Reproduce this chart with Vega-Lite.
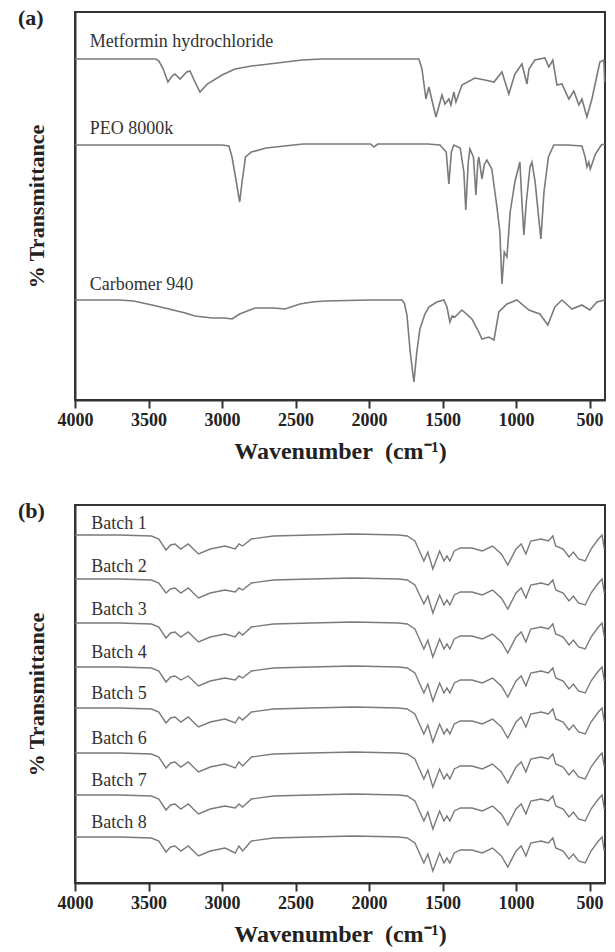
{
  "$schema": "https://vega.github.io/schema/vega-lite/v6.json",
  "background": "white",
  "padding": {"left": 17, "top": 6, "right": 8, "bottom": 2},
  "spacing": 35,
  "config": {
    "view": {"stroke": "#333", "strokeWidth": 2},
    "axis": {
      "grid": false,
      "domainColor": "#333", "domainWidth": 2,
      "tickColor": "#333", "tickWidth": 2,
      "labelFont": "Liberation Serif", "labelFontWeight": "bold", "labelFontSize": 18, "labelColor": "#222",
      "titleFont": "Liberation Serif", "titleFontWeight": "bold", "titleFontSize": 24, "titleColor": "#222"
    },
    "title": {"font": "Liberation Serif", "fontWeight": "bold", "fontSize": 22, "color": "#222"}
  },
  "vconcat": [
    {
      "width": 530,
      "height": 388,
      "title": {"text": "(a)", "anchor": "start", "frame": "bounds", "offset": 0, "dy": 18, "dx": -7},
      "layer": [
        {
          "data": {
            "values": "s,w,t\nM,4000,343\nM,3700,343\nM,3450,343\nM,3429,341\nM,3400,333\nM,3368,320\nM,3340,326\nM,3320,328\nM,3286,323\nM,3240,330\nM,3218,331\nM,3190,322\nM,3150,310\nM,3100,318\nM,3000,327\nM,2912,333\nM,2800,336\nM,2681,338\nM,2456,342\nM,2320,343\nM,2000,343\nM,1700,343\nM,1661,343\nM,1640,333\nM,1613,303\nM,1593,315\nM,1545,285\nM,1504,307\nM,1484,298\nM,1457,303\nM,1443,297\nM,1423,310\nM,1409,300\nM,1368,317\nM,1280,324\nM,1212,322\nM,1150,320\nM,1096,330\nM,1049,308\nM,1008,328\nM,960,338\nM,926,318\nM,912,333\nM,872,342\nM,804,344\nM,777,335\nM,750,342\nM,722,317\nM,688,318\nM,641,303\nM,607,311\nM,573,297\nM,552,303\nM,518,285\nM,484,303\nM,430,340\nM,403,342\nM,397,320\nP,4000,257\nP,3500,257\nP,3000,257\nP,2953,256\nP,2932,245\nP,2905,222\nP,2880,200\nP,2862,222\nP,2840,245\nP,2800,250\nP,2700,254\nP,2450,258\nP,2100,258\nP,1990,258\nP,1967,255\nP,1940,258\nP,1600,258\nP,1518,257\nP,1475,250\nP,1457,218\nP,1440,250\nP,1423,257\nP,1380,254\nP,1355,230\nP,1342,192\nP,1325,240\nP,1314,253\nP,1290,245\nP,1273,207\nP,1260,240\nP,1253,245\nP,1232,223\nP,1215,238\nP,1198,242\nP,1165,233\nP,1130,195\nP,1110,170\nP,1096,118\nP,1080,150\nP,1062,145\nP,1040,190\nP,1008,220\nP,974,240\nP,960,200\nP,947,167\nP,930,200\nP,905,235\nP,892,240\nP,870,220\nP,850,190\nP,831,163\nP,810,210\nP,780,245\nP,743,257\nP,650,257\nP,552,256\nP,530,245\nP,518,235\nP,505,240\nP,495,233\nP,460,248\nP,420,257\nP,397,258\nC,4000,102\nC,3700,102\nC,3600,101\nC,3476,97\nC,3361,93\nC,3250,89\nC,3184,86\nC,3068,84\nC,2980,84\nC,2932,83\nC,2880,88\nC,2776,94\nC,2650,94\nC,2572,93\nC,2470,98\nC,2388,100\nC,2300,101\nC,2000,102\nC,1776,102\nC,1760,99\nC,1742,87\nC,1720,50\nC,1695,20\nC,1675,50\nC,1654,73\nC,1620,88\nC,1593,95\nC,1540,100\nC,1491,102\nC,1470,95\nC,1450,80\nC,1435,86\nC,1416,85\nC,1368,92\nC,1300,83\nC,1260,72\nC,1232,63\nC,1185,65\nC,1150,62\nC,1117,90\nC,1062,98\nC,994,102\nC,913,92\nC,838,88\nC,784,77\nC,736,95\nC,688,102\nC,650,97\nC,620,93\nC,552,97\nC,498,92\nC,450,100\nC,397,102",
            "format": {"type": "csv", "parse": {"w": "number", "t": "number"}}
          },
          "mark": {"type": "line", "color": "#7a7a7a", "strokeWidth": 1.6},
          "encoding": {
            "x": {
              "field": "w", "type": "quantitative",
              "scale": {"domain": [395, 4000], "reverse": true, "nice": false, "zero": false},
              "axis": {
                "title": "Wavenumber\u2002(cm\u207b\u00b9)",
                "values": [4000, 3750, 3500, 3250, 3000, 2750, 2500, 2250, 2000, 1750, 1500, 1250, 1000, 750, 500],
                "labelExpr": "datum.value % 500 === 0 ? datum.value : ''",
                "tickSize": {"condition": {"test": "datum.value % 500 === 0", "value": 8}, "value": 5},
                "labelOverlap": false, "labelFlush": false, "labelPadding": 3, "titlePadding": 10
              }
            },
            "y": {
              "field": "t", "type": "quantitative",
              "scale": {"domain": [2, 390], "nice": false, "zero": false},
              "axis": {"title": "% Transmittance", "labels": false, "ticks": false, "titlePadding": 27, "titleFontSize": 22}
            },
            "detail": {"field": "s"}
          }
        },
        {
          "data": {
            "values": [
              {"label": "Metformin hydrochloride", "w": 3900, "t": 355},
              {"label": "PEO 8000k", "w": 3900, "t": 268},
              {"label": "Carbomer 940", "w": 3900, "t": 112}
            ]
          },
          "mark": {"type": "text", "align": "left", "baseline": "alphabetic", "font": "Liberation Serif", "fontSize": 18, "color": "#333"},
          "encoding": {
            "x": {"field": "w", "type": "quantitative"},
            "y": {"field": "t", "type": "quantitative"},
            "text": {"field": "label"}
          }
        }
      ]
    },
    {
      "width": 530,
      "height": 378,
      "title": {"text": "(b)", "anchor": "start", "frame": "bounds", "offset": 0, "dy": 18, "dx": -7},
      "layer": [
        {
          "data": {
            "values": "s,w,t\n1,4000,366\n1,3700,366\n1,3480,365\n1,3430,362\n1,3381,351\n1,3350,356\n1,3320,357\n1,3280,352\n1,3230,357\n1,3160,347\n1,3080,352\n1,2980,355\n1,2910,352\n1,2885,357\n1,2860,355\n1,2800,362\n1,2650,365\n1,2400,366\n1,2100,367\n1,1800,366\n1,1740,365\n1,1688,360\n1,1627,340\n1,1600,349\n1,1566,332\n1,1520,350\n1,1490,340\n1,1470,345\n1,1450,340\n1,1420,350\n1,1380,353\n1,1300,353\n1,1230,350\n1,1160,355\n1,1100,347\n1,1056,336\n1,1000,352\n1,965,357\n1,933,347\n1,900,360\n1,830,362\n1,780,360\n1,750,365\n1,730,355\n1,680,352\n1,640,344\n1,610,349\n1,575,342\n1,530,340\n1,490,352\n1,440,362\n1,415,366\n1,400,352\n2,4000,322\n2,3700,322\n2,3480,321\n2,3430,318\n2,3381,308\n2,3350,312\n2,3320,313\n2,3280,308\n2,3230,313\n2,3160,303\n2,3080,308\n2,2980,311\n2,2910,309\n2,2885,313\n2,2860,311\n2,2800,318\n2,2650,321\n2,2400,322\n2,2100,323\n2,1800,322\n2,1740,321\n2,1688,316\n2,1627,297\n2,1600,305\n2,1566,288\n2,1520,306\n2,1490,296\n2,1470,301\n2,1450,296\n2,1420,306\n2,1380,309\n2,1300,309\n2,1230,306\n2,1160,311\n2,1100,303\n2,1056,292\n2,1000,308\n2,965,313\n2,933,303\n2,900,316\n2,830,318\n2,780,316\n2,750,321\n2,730,311\n2,680,308\n2,640,300\n2,610,305\n2,575,298\n2,530,296\n2,490,308\n2,440,318\n2,415,322\n2,400,308\n3,4000,278\n3,3700,278\n3,3480,277\n3,3430,274\n3,3381,263\n3,3350,268\n3,3320,269\n3,3280,264\n3,3230,269\n3,3160,259\n3,3080,264\n3,2980,267\n3,2910,264\n3,2885,269\n3,2860,266\n3,2800,274\n3,2650,277\n3,2400,278\n3,2100,279\n3,1800,278\n3,1740,277\n3,1688,272\n3,1627,252\n3,1600,261\n3,1566,244\n3,1520,262\n3,1490,252\n3,1470,257\n3,1450,252\n3,1420,262\n3,1380,265\n3,1300,265\n3,1230,262\n3,1160,267\n3,1100,259\n3,1056,248\n3,1000,264\n3,965,269\n3,933,259\n3,900,272\n3,830,274\n3,780,272\n3,750,277\n3,730,267\n3,680,264\n3,640,256\n3,610,261\n3,575,254\n3,530,252\n3,490,264\n3,440,274\n3,415,278\n3,400,264\n4,4000,234\n4,3700,234\n4,3480,233\n4,3430,230\n4,3381,219\n4,3350,224\n4,3320,225\n4,3280,221\n4,3230,225\n4,3160,215\n4,3080,220\n4,2980,223\n4,2910,221\n4,2885,225\n4,2860,223\n4,2800,230\n4,2650,233\n4,2400,234\n4,2100,235\n4,1800,234\n4,1740,233\n4,1688,228\n4,1627,208\n4,1600,217\n4,1566,200\n4,1520,218\n4,1490,208\n4,1470,213\n4,1450,208\n4,1420,218\n4,1380,221\n4,1300,221\n4,1230,218\n4,1160,223\n4,1100,215\n4,1056,204\n4,1000,220\n4,965,225\n4,933,215\n4,900,228\n4,830,230\n4,780,228\n4,750,233\n4,730,223\n4,680,220\n4,640,212\n4,610,217\n4,575,210\n4,530,208\n4,490,220\n4,440,230\n4,415,234\n4,400,220\n5,4000,193\n5,3700,193\n5,3480,192\n5,3430,189\n5,3381,178\n5,3350,183\n5,3320,184\n5,3280,179\n5,3230,184\n5,3160,174\n5,3080,179\n5,2980,182\n5,2910,178\n5,2885,184\n5,2860,181\n5,2800,189\n5,2650,192\n5,2400,193\n5,2100,194\n5,1800,193\n5,1740,192\n5,1688,187\n5,1627,167\n5,1600,176\n5,1566,159\n5,1520,177\n5,1490,167\n5,1470,172\n5,1450,167\n5,1420,177\n5,1380,180\n5,1300,180\n5,1230,177\n5,1160,182\n5,1100,174\n5,1056,163\n5,1000,179\n5,965,184\n5,933,174\n5,900,187\n5,830,189\n5,780,187\n5,750,192\n5,730,182\n5,680,179\n5,640,171\n5,610,176\n5,575,169\n5,530,167\n5,490,179\n5,440,189\n5,415,193\n5,400,179\n6,4000,148\n6,3700,148\n6,3480,147\n6,3430,144\n6,3381,133\n6,3350,138\n6,3320,139\n6,3280,134\n6,3230,139\n6,3160,129\n6,3080,134\n6,2980,137\n6,2910,133\n6,2885,139\n6,2860,135\n6,2800,144\n6,2650,147\n6,2400,148\n6,2100,149\n6,1800,148\n6,1740,147\n6,1688,142\n6,1627,122\n6,1600,131\n6,1566,114\n6,1520,132\n6,1490,122\n6,1470,127\n6,1450,122\n6,1420,132\n6,1380,135\n6,1300,135\n6,1230,132\n6,1160,137\n6,1100,129\n6,1056,118\n6,1000,134\n6,965,139\n6,933,129\n6,900,142\n6,830,144\n6,780,142\n6,750,147\n6,730,137\n6,680,134\n6,640,126\n6,610,131\n6,575,124\n6,530,122\n6,490,134\n6,440,144\n6,415,148\n6,400,134\n7,4000,106\n7,3700,106\n7,3480,105\n7,3430,102\n7,3381,91\n7,3350,96\n7,3320,97\n7,3280,92\n7,3230,97\n7,3160,87\n7,3080,92\n7,2980,95\n7,2910,93\n7,2885,97\n7,2860,94\n7,2800,102\n7,2650,105\n7,2400,106\n7,2100,107\n7,1800,106\n7,1740,105\n7,1688,100\n7,1627,80\n7,1600,89\n7,1566,72\n7,1520,90\n7,1490,80\n7,1470,85\n7,1450,80\n7,1420,90\n7,1380,93\n7,1300,93\n7,1230,90\n7,1160,95\n7,1100,87\n7,1056,76\n7,1000,92\n7,965,97\n7,933,87\n7,900,100\n7,830,102\n7,780,100\n7,750,105\n7,730,95\n7,680,92\n7,640,84\n7,610,89\n7,575,82\n7,530,80\n7,490,92\n7,440,102\n7,415,106\n7,400,92\n8,4000,64\n8,3700,64\n8,3480,63\n8,3430,60\n8,3381,49\n8,3350,54\n8,3320,55\n8,3280,50\n8,3230,55\n8,3160,45\n8,3080,50\n8,2980,53\n8,2910,48\n8,2885,55\n8,2860,50\n8,2800,60\n8,2650,63\n8,2400,64\n8,2100,65\n8,1800,64\n8,1740,63\n8,1688,58\n8,1627,38\n8,1600,47\n8,1566,30\n8,1520,48\n8,1490,38\n8,1470,43\n8,1450,38\n8,1420,48\n8,1380,51\n8,1300,51\n8,1230,48\n8,1160,53\n8,1100,45\n8,1056,34\n8,1000,50\n8,965,55\n8,933,45\n8,900,58\n8,830,60\n8,780,58\n8,750,63\n8,730,53\n8,680,50\n8,640,42\n8,610,47\n8,575,40\n8,530,38\n8,490,50\n8,440,60\n8,415,64\n8,400,50",
            "format": {"type": "csv", "parse": {"w": "number", "t": "number"}}
          },
          "mark": {"type": "line", "color": "#7a7a7a", "strokeWidth": 1.4},
          "encoding": {
            "x": {
              "field": "w", "type": "quantitative",
              "scale": {"domain": [395, 4000], "reverse": true, "nice": false, "zero": false},
              "axis": {
                "title": "Wavenumber\u2002(cm\u207b\u00b9)",
                "values": [4000, 3750, 3500, 3250, 3000, 2750, 2500, 2250, 2000, 1750, 1500, 1250, 1000, 750, 500],
                "labelExpr": "datum.value % 500 === 0 ? datum.value : ''",
                "tickSize": {"condition": {"test": "datum.value % 500 === 0", "value": 8}, "value": 5},
                "labelOverlap": false, "labelFlush": false, "labelPadding": 3, "titlePadding": 10
              }
            },
            "y": {
              "field": "t", "type": "quantitative",
              "scale": {"domain": [18, 396], "nice": false, "zero": false},
              "axis": {"title": "% Transmittance", "labels": false, "ticks": false, "titlePadding": 27, "titleFontSize": 22}
            },
            "detail": {"field": "s"}
          }
        },
        {
          "data": {
            "values": [
              {"label": "Batch 1", "w": 3890, "t": 372},
              {"label": "Batch 2", "w": 3890, "t": 329},
              {"label": "Batch 3", "w": 3890, "t": 286},
              {"label": "Batch 4", "w": 3890, "t": 243},
              {"label": "Batch 5", "w": 3890, "t": 202},
              {"label": "Batch 6", "w": 3890, "t": 157},
              {"label": "Batch 7", "w": 3890, "t": 115},
              {"label": "Batch 8", "w": 3890, "t": 73}
            ]
          },
          "mark": {"type": "text", "align": "left", "baseline": "alphabetic", "font": "Liberation Serif", "fontSize": 18, "color": "#333"},
          "encoding": {
            "x": {"field": "w", "type": "quantitative"},
            "y": {"field": "t", "type": "quantitative"},
            "text": {"field": "label"}
          }
        }
      ]
    }
  ]
}
